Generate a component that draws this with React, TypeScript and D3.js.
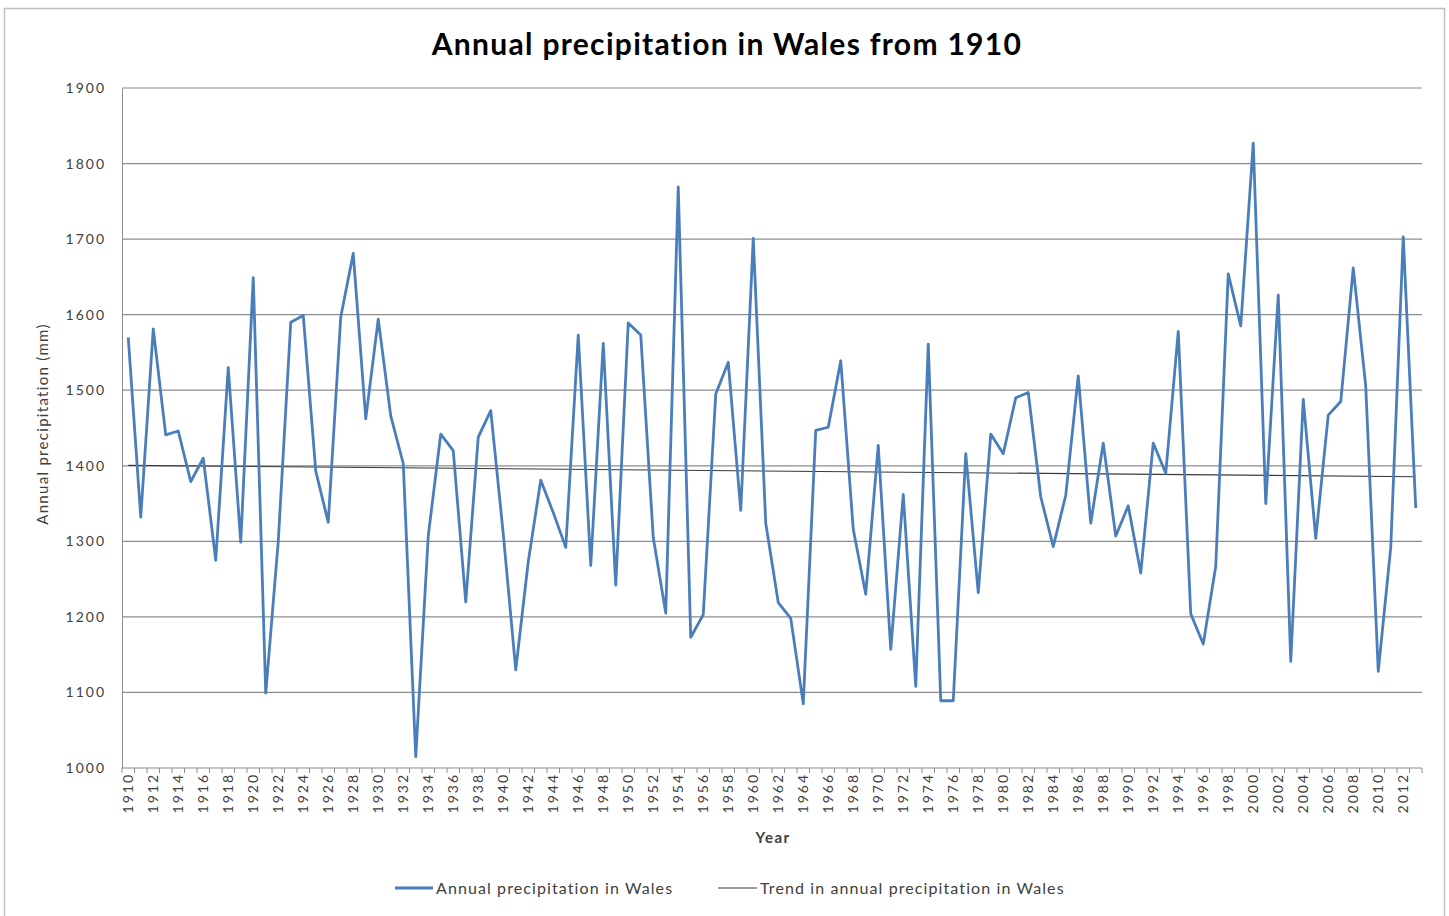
import React, { useEffect, useRef } from 'react';
import * as d3 from 'd3';

// Annual precipitation in Wales (mm)
const years: number[] = d3.range(1910, 2014);
const precipitation: number[] = [
  1570, 1332, 1581, 1441, 1446, 1379, 1410, 1275, 1530, 1299,
  1649, 1099, 1300, 1590, 1599, 1393, 1325, 1597, 1681, 1462,
  1594, 1466, 1403, 1015, 1307, 1442, 1420, 1220, 1438, 1473,
  1310, 1130, 1273, 1381, 1338, 1292, 1573, 1268, 1562, 1242,
  1589, 1573, 1305, 1205, 1769, 1173, 1203, 1495, 1537, 1341,
  1701, 1324, 1219, 1198, 1085, 1447, 1451, 1539, 1316, 1230,
  1427, 1157, 1362, 1108, 1561, 1089, 1089, 1416, 1232, 1442,
  1416, 1490, 1497, 1359, 1293, 1361, 1519, 1324, 1430, 1307,
  1347, 1258, 1430, 1390, 1578, 1204, 1164, 1267, 1654, 1585,
  1827, 1350, 1626, 1141, 1488, 1304, 1467, 1485, 1662, 1505,
  1128, 1292, 1703, 1344,
];
// linear trend, first and last year
const trendYears: number[] = [1910, 2013];
const trendValues: number[] = [1400.5, 1385.5];

const yTicks: number[] = [1000, 1100, 1200, 1300, 1400, 1500, 1600, 1700, 1800, 1900];

const seriesName = 'Annual precipitation in Wales';
const trendName = 'Trend in annual precipitation in Wales';

const W = 1449;
const H = 916;
const FONT = 'Lato, "Open Sans", sans-serif';

const App = () => {
  const svgRef = useRef<SVGSVGElement>(null);

  useEffect(() => {
    const margin = { top: 88, right: 27, bottom: 148, left: 122 };
    const width = W - margin.left - margin.right;
    const height = H - margin.top - margin.bottom;

    d3.select(svgRef.current).selectAll('*').remove();

    const root = d3.select(svgRef.current)
      .attr('width', W)
      .attr('height', H);

    root.append('rect')
      .attr('width', W)
      .attr('height', H)
      .attr('fill', 'white');

    // chart border
    root.append('rect')
      .attr('x', 4.5)
      .attr('y', 8.5)
      .attr('width', W - 9)
      .attr('height', H - 6)
      .attr('fill', 'none')
      .attr('stroke', '#bfbfbf')
      .attr('stroke-width', 1.5);

    root.append('text')
      .attr('x', 727)
      .attr('y', 55)
      .attr('text-anchor', 'middle')
      .attr('font-family', FONT)
      .attr('font-weight', 'bold')
      .attr('font-size', 30)
      .attr('letter-spacing', 1.3)
      .attr('fill', '#000')
      .text('Annual precipitation in Wales from 1910');

    const svg = root.append('g')
      .attr('transform', `translate(${margin.left},${margin.top})`);

    const x = d3.scaleBand<number>().domain(years).range([0, width]);
    const cx = (yr: number) => (x(yr) ?? 0) + x.bandwidth() / 2;
    const y = d3.scaleLinear().domain([1000, 1900]).range([height, 0]);

    // gridlines
    svg.append('g')
      .selectAll('line')
      .data(yTicks.filter(t => t > 1000))
      .join('line')
      .attr('x1', 0)
      .attr('x2', width)
      .attr('y1', d => y(d))
      .attr('y2', d => y(d))
      .attr('stroke', '#8c8c8c')
      .attr('stroke-width', 1.2);

    // y axis
    const yAxis = svg.append('g')
      .call(d3.axisLeft(y).tickValues(yTicks).tickSize(0).tickPadding(16).tickFormat(d3.format('d')));
    yAxis.select('.domain').attr('stroke', '#8c8c8c');
    yAxis.selectAll('text')
      .attr('font-family', FONT)
      .attr('font-size', 14)
      .attr('letter-spacing', 2)
      .attr('fill', '#404040');

    // x axis with ticks between categories
    const xAxis = svg.append('g')
      .attr('transform', `translate(0,${height})`);
    xAxis.append('line')
      .attr('x1', 0)
      .attr('x2', width)
      .attr('stroke', '#8c8c8c');
    xAxis.selectAll('line.tick')
      .data([...years, 2014])
      .join('line')
      .attr('class', 'tick')
      .attr('x1', d => (d === 2014 ? width : x(d) ?? 0))
      .attr('x2', d => (d === 2014 ? width : x(d) ?? 0))
      .attr('y1', 0)
      .attr('y2', 5)
      .attr('stroke', '#8c8c8c');
    xAxis.selectAll('text')
      .data(years.filter(yr => (yr - 1910) % 2 === 0))
      .join('text')
      .attr('transform', d => `translate(${cx(d) + 5},5) rotate(-90)`)
      .attr('text-anchor', 'end')
      .attr('font-family', FONT)
      .attr('font-size', 14)
      .attr('letter-spacing', 2)
      .attr('fill', '#404040')
      .text(d => d);

    svg.append('text')
      .attr('x', 651)
      .attr('y', height + 75)
      .attr('text-anchor', 'middle')
      .attr('font-family', FONT)
      .attr('font-weight', 'bold')
      .attr('font-size', 15)
      .attr('letter-spacing', 1.5)
      .attr('fill', '#404040')
      .text('Year');

    svg.append('text')
      .attr('transform', 'rotate(-90)')
      .attr('x', -height / 2 + 4)
      .attr('y', -74)
      .attr('text-anchor', 'middle')
      .attr('font-family', FONT)
      .attr('font-size', 15)
      .attr('letter-spacing', 1.3)
      .attr('fill', '#404040')
      .text('Annual precipitation (mm)');

    // trend
    const line = d3.line<number>()
      .x((_, i) => cx(years[i]));

    svg.append('path')
      .datum(trendYears)
      .attr('fill', 'none')
      .attr('stroke', '#3a3a3a')
      .attr('stroke-width', 1.2)
      .attr('d', d3.line<number>()
        .x(d => cx(d))
        .y((_, i) => y(trendValues[i]))(trendYears));

    // data series
    svg.append('path')
      .datum(precipitation)
      .attr('fill', 'none')
      .attr('stroke', '#4a7ebb')
      .attr('stroke-width', 2.8)
      .attr('stroke-linejoin', 'round')
      .attr('d', line.y(d => y(d)));

    // legend
    const legend = root.append('g').attr('transform', 'translate(0,888)');
    legend.append('line')
      .attr('x1', 395).attr('x2', 433)
      .attr('stroke', '#4a7ebb').attr('stroke-width', 2.8);
    legend.append('text')
      .attr('x', 436).attr('y', 5.5)
      .attr('font-family', FONT).attr('font-size', 16).attr('letter-spacing', 1.1).attr('fill', '#404040')
      .text(seriesName);
    legend.append('line')
      .attr('x1', 718).attr('x2', 757)
      .attr('stroke', '#3a3a3a').attr('stroke-width', 1.2);
    legend.append('text')
      .attr('x', 760).attr('y', 5.5)
      .attr('font-family', FONT).attr('font-size', 16).attr('letter-spacing', 1.1).attr('fill', '#404040')
      .text(trendName);
  }, []);

  return <svg ref={svgRef} style={{ position: 'absolute', left: 0, top: 0, display: 'block' }} />;
};

export default App;
